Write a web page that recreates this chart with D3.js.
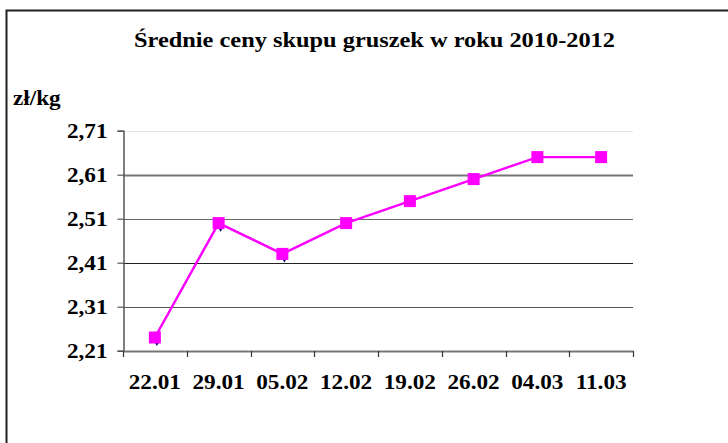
<!DOCTYPE html>
<html>
<head>
<meta charset="utf-8">
<script src="https://cdn.jsdelivr.net/npm/d3@7"></script>
<style>
  body { margin: 0; background: #fff; }
  svg { display: block; }
  text { font-family: "Liberation Serif", "Times New Roman", serif; font-weight: bold; fill: #000; }
</style>
</head>
<body>
<svg width="728" height="443"></svg>
<script>
// data
let dates = ['22.01', '29.01', '05.02', '12.02', '19.02', '26.02', '04.03', '11.03'];
let prices = [2.24, 2.50, 2.43, 2.50, 2.55, 2.60, 2.65, 2.65];
// second series, almost fully hidden under the first one
let pricesPrev = [2.24, 2.50, 2.43];
let yTicks = [2.21, 2.31, 2.41, 2.51, 2.61, 2.71];

let svg = d3.select('svg');
let stretch = 1.16;

// outer frame (cut by the right and bottom edges)
svg.append('path')
  .attr('d', 'M6.5,460V10.5H740')
  .attr('fill', 'none')
  .attr('stroke', '#222')
  .attr('stroke-width', 2);

let x = d3.scaleBand()
  .domain(dates)
  .range([123, 633]);

let y = d3.scaleLinear()
  .domain([2.21, 2.71])
  .range([350.7, 130.7]);

// widen text like the original picture
function widen(sel) {
  sel.each(function() {
    let len = this.getComputedTextLength();
    d3.select(this)
      .attr('textLength', len * stretch)
      .attr('lengthAdjust', 'spacingAndGlyphs');
  });
}

// gridlines
let gridColors = ['#777', '#555', '#222', '#666', '#777', '#e6e6e6'];
svg.append('g')
  .selectAll('line')
  .data(yTicks.slice(1))
  .enter()
  .append('line')
  .attr('x1', 123)
  .attr('x2', 633)
  .attr('y1', d => Math.round(y(d)) + 0.5)
  .attr('y2', d => Math.round(y(d)) + 0.5)
  .attr('stroke', (d, i) => gridColors[i + 1])
  .attr('stroke-width', (d, i) => i == 3 ? 2 : 1.2);

// y axis
let yAxis = svg.append('g')
  .attr('transform', 'translate(123.5,0)')
  .call(d3.axisLeft(y).tickValues(yTicks).tickSize(6).tickFormat(d => d3.format('.2f')(d).replace('.', ',')));
yAxis.select('.domain').attr('stroke', '#555').attr('stroke-width', 1.5);
yAxis.selectAll('.tick line').attr('stroke', '#555').attr('stroke-width', 1.2);
yAxis.selectAll('.tick text')
  .attr('x', -16)
  .attr('dy', '0.32em')
  .style('font-size', '20px')
  .style('font-family', '"Liberation Serif", serif')
  .call(widen);

// x axis
let xAxis = svg.append('g')
  .attr('transform', 'translate(0,351)')
  .call(d3.axisBottom(x).tickSize(0).tickFormat(''));
xAxis.select('.domain').attr('stroke', '#777').attr('stroke-width', 2);
xAxis.selectAll('.tick').remove();

svg.append('g')
  .selectAll('line')
  .data(dates.concat(['end']))
  .enter()
  .append('line')
  .attr('x1', (d, i) => Math.round(i < dates.length ? x(d) : x.range()[1]) + 0.5)
  .attr('x2', (d, i) => Math.round(i < dates.length ? x(d) : x.range()[1]) + 0.5)
  .attr('y1', 351)
  .attr('y2', 357)
  .attr('stroke', '#333')
  .attr('stroke-width', 1.2);

svg.append('g')
  .selectAll('text')
  .data(dates)
  .enter()
  .append('text')
  .attr('x', d => x(d) + x.bandwidth() / 2)
  .attr('y', 389)
  .attr('text-anchor', 'middle')
  .style('font-size', '20px')
  .text(d => d)
  .call(widen);

// hidden series
let line = d3.line()
  .x((d, i) => x(dates[i]) + x.bandwidth() / 2)
  .y(d => y(d));

svg.append('path')
  .datum(pricesPrev)
  .attr('d', line)
  .attr('fill', 'none')
  .attr('stroke', '#000080')
  .attr('stroke-width', 1.5);

svg.append('g')
  .selectAll('path')
  .data(pricesPrev)
  .enter()
  .append('path')
  .attr('d', d3.symbol().type(d3.symbolDiamond).size(50))
  .attr('transform', (d, i) => 'translate(' + (x(dates[i]) + x.bandwidth() / 2 + 2) + ',' + (y(d) + 2) + ')')
  .attr('fill', '#000080');

// main series
svg.append('path')
  .datum(prices)
  .attr('d', line)
  .attr('fill', 'none')
  .attr('stroke', '#ff00ff')
  .attr('stroke-width', 2.4);

svg.append('g')
  .selectAll('rect')
  .data(prices)
  .enter()
  .append('rect')
  .attr('x', (d, i) => x(dates[i]) + x.bandwidth() / 2 - 6)
  .attr('y', d => y(d) - 6)
  .attr('width', 12)
  .attr('height', 12)
  .attr('fill', '#ff00ff');

// title and unit
svg.append('text')
  .attr('x', 374.5)
  .attr('y', 47)
  .attr('text-anchor', 'middle')
  .style('font-size', '21px')
  .text('Średnie ceny skupu gruszek w roku 2010-2012')
  .call(widen);

svg.append('text')
  .attr('x', 13)
  .attr('y', 105)
  .style('font-size', '20px')
  .text('zł/kg')
  .call(widen);
</script>
</body>
</html>
